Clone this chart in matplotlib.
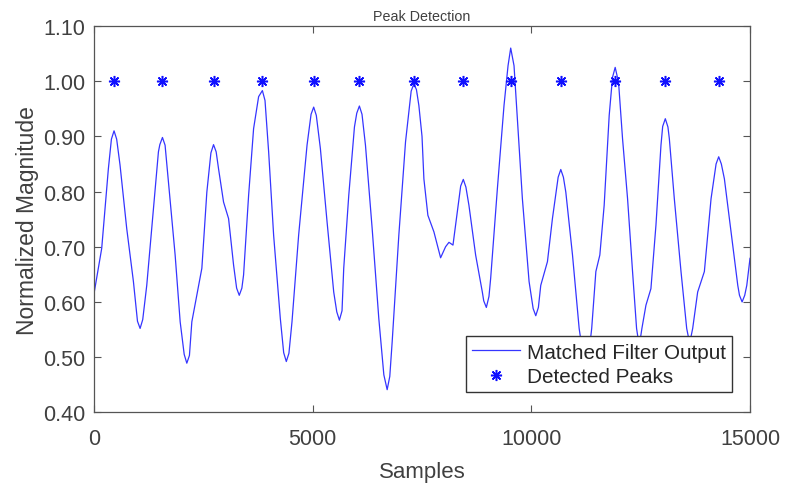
import matplotlib
matplotlib.use("Agg")
import matplotlib.pyplot as plt
from matplotlib.ticker import FormatStrFormatter, FixedLocator

# Matched filter output (samples, normalized magnitude)
samples = [0, 176, 328, 398, 458, 518, 595, 748, 901, 994, 1054, 1114, 1206, 1359, 1473, 1505,
           1565, 1625, 1702, 1855, 1970, 2062, 2122, 2182, 2237, 2351, 2466, 2580, 2673, 2733,
           2793, 2848, 2962, 3077, 3191, 3261, 3321, 3381, 3420, 3535, 3649, 3764, 3850, 3910,
           3993, 4107, 4260, 4337, 4397, 4457, 4527, 4679, 4871, 4963, 5023, 5083, 5176, 5329,
           5481, 5551, 5611, 5671, 5710, 5825, 5955, 6008, 6068, 6128, 6207, 6360, 6512, 6627,
           6703, 6763, 6818, 6970, 7123, 7252, 7312, 7372, 7428, 7500, 7543, 7634, 7772, 7925,
           8039, 8116, 8208, 8306, 8384, 8444, 8504, 8573, 8726, 8879, 8911, 8971, 9031, 9070,
           9223, 9375, 9467, 9528, 9604, 9681, 9795, 9948, 10041, 10101, 10161, 10215, 10368,
           10482, 10613, 10673, 10733, 10788, 10941, 11093, 11170, 11246, 11320, 11380, 11475,
           11566, 11665, 11780, 11856, 11917, 11994, 12085, 12200, 12314, 12406, 12467, 12528,
           12620, 12734, 12849, 12964, 13003, 13063, 13123, 13155, 13269, 13422, 13552, 13620,
           13689, 13803, 13956, 14109, 14224, 14284, 14344, 14414, 14567, 14720, 14759, 14819,
           14879, 14926, 15000]
magnitude = [0.615, 0.697, 0.841, 0.895, 0.910, 0.895, 0.848, 0.733, 0.637, 0.565, 0.552, 0.568,
             0.630, 0.769, 0.872, 0.885, 0.898, 0.884, 0.817, 0.685, 0.564, 0.505, 0.489, 0.503,
             0.564, 0.612, 0.661, 0.799, 0.870, 0.885, 0.872, 0.841, 0.781, 0.751, 0.667, 0.625,
             0.612, 0.625, 0.649, 0.793, 0.914, 0.972, 0.983, 0.965, 0.872, 0.721, 0.570, 0.508,
             0.492, 0.507, 0.564, 0.721, 0.884, 0.940, 0.953, 0.938, 0.878, 0.745, 0.618, 0.582,
             0.567, 0.584, 0.661, 0.793, 0.917, 0.942, 0.955, 0.940, 0.884, 0.733, 0.570, 0.468,
             0.441, 0.465, 0.528, 0.721, 0.890, 0.982, 0.995, 0.985, 0.956, 0.900, 0.823, 0.757,
             0.727, 0.680, 0.700, 0.708, 0.703, 0.763, 0.810, 0.822, 0.808, 0.775, 0.685, 0.618,
             0.602, 0.590, 0.610, 0.643, 0.805, 0.956, 1.028, 1.060, 1.028, 0.932, 0.787, 0.637,
             0.588, 0.575, 0.590, 0.630, 0.673, 0.751, 0.826, 0.840, 0.826, 0.799, 0.685, 0.552,
             0.510, 0.495, 0.510, 0.552, 0.655, 0.685, 0.775, 0.938, 1.007, 1.025, 0.998, 0.896,
             0.787, 0.655, 0.552, 0.520, 0.552, 0.594, 0.624, 0.739, 0.884, 0.918, 0.932, 0.917,
             0.896, 0.787, 0.655, 0.552, 0.525, 0.552, 0.618, 0.655, 0.787, 0.850, 0.863, 0.850,
             0.823, 0.727, 0.630, 0.612, 0.600, 0.612, 0.630, 0.679]

# Detected peaks
peak_samples = [458, 1565, 2733, 3850, 5023, 6068, 7312, 8444, 9528, 10673, 11917, 13063, 14284]
peak_values = [1.00] * len(peak_samples)

x_ticks = [0, 5000, 10000, 15000]
y_ticks = [0.40, 0.50, 0.60, 0.70, 0.80, 0.90, 1.00, 1.10]

plt.rcParams['font.family'] = ['Liberation Sans', 'DejaVu Sans']
text_color = '#404040'
axis_color = '#555555'

fig = plt.figure(figsize=(7.88, 4.89), dpi=100)
ax = fig.add_axes([0.1193, 0.1548, 0.8325, 0.79])

ax.plot(samples, magnitude, color='#3535ff', lw=0.9, label='Matched Filter Output')
ax.plot(peak_samples, peak_values, linestyle='none', marker=(8, 2, 0), markersize=8,
        markeredgewidth=1.1, color='#1010ff', label='Detected Peaks')

ax.set_xlim(0, 15000)
ax.set_ylim(0.40, 1.10)
ax.xaxis.set_major_locator(FixedLocator(x_ticks))
ax.yaxis.set_major_locator(FixedLocator(y_ticks))
ax.yaxis.set_major_formatter(FormatStrFormatter('%.2f'))

ax.tick_params(direction='in', length=5, width=0.8, colors=axis_color,
               labelcolor=text_color, labelsize=15.5, top=True, right=True)
ax.tick_params(axis='x', pad=11)
ax.tick_params(axis='y', pad=6)
for sp in ax.spines.values():
    sp.set_color(axis_color)
    sp.set_linewidth(0.9)

ax.set_xlabel('Samples', fontsize=16, color=text_color, labelpad=9)
ax.set_ylabel('Normalized Magnitude', fontsize=16.5, color=text_color, labelpad=3)
ax.set_title('Peak Detection', fontsize=10.3, color=text_color, pad=4)

leg = ax.legend(loc='lower right', bbox_to_anchor=(0.9726, 0.0525), fontsize=14.9,
                frameon=True, fancybox=False, edgecolor='#333333', framealpha=1,
                handlelength=2.3, handletextpad=0.35, labelspacing=0.25,
                borderpad=0.3, borderaxespad=0.0)
leg.get_frame().set_linewidth(1.0)
for t in leg.get_texts():
    t.set_color('#262626')

fig.savefig('out.png', dpi=100)
